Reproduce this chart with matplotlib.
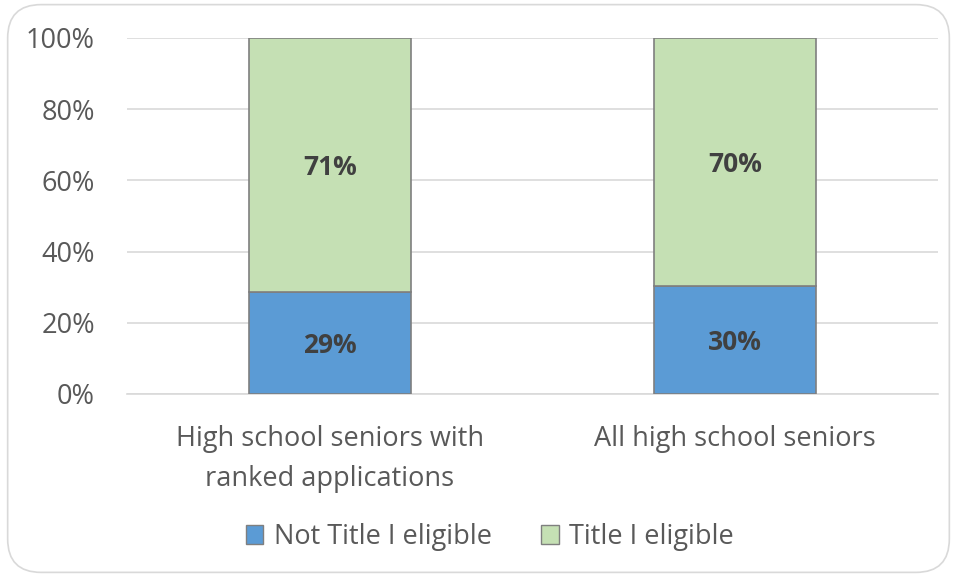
import numpy as np
import matplotlib.pyplot as plt
from matplotlib.patches import FancyBboxPatch, Patch

categories = ["High school seniors with\nranked applications", "All high school seniors"]
not_title = [28.7, 30.4]
title = [71.3, 69.6]
series_names = ["Not Title I eligible", "Title I eligible"]
yticks = [0, 20, 40, 60, 80, 100]

plt.rcParams['font.family'] = ['Open Sans', 'DejaVu Sans']

fig = plt.figure(figsize=(9.57, 5.77), dpi=100)
ax = fig.add_axes([127 / 957, 1 - 394 / 577, (938 - 127) / 957, (394 - 38) / 577])

# rounded chart border
border = FancyBboxPatch((0.008, 0.008), 0.984, 0.984,
                        boxstyle="round,pad=0,rounding_size=0.035",
                        transform=fig.transFigure, facecolor='none',
                        edgecolor='#D9D9D9', linewidth=1.2, mutation_aspect=957 / 577)
fig.patches.append(border)

x = np.arange(len(categories))
ax.bar(x, not_title, width=0.4, color='#5B9BD5', edgecolor='#7F7F7F', linewidth=1.2, zorder=3)
ax.bar(x, title, width=0.4, bottom=not_title, color='#C5E0B4', edgecolor='#7F7F7F', linewidth=1.2, zorder=3)

for i in range(len(categories)):
    ax.text(x[i], not_title[i] / 2, f"{round(not_title[i])}%", ha='center', va='center_baseline',
            fontsize=19, fontweight='bold', color='#404040', zorder=4)
    ax.text(x[i], not_title[i] + title[i] / 2, f"{round(title[i])}%", ha='center', va='center_baseline',
            fontsize=19, fontweight='bold', color='#404040', zorder=4)

ax.set_xlim(-0.5, 1.5)
ax.set_ylim(0, 100)
ax.set_yticks(yticks)
ax.set_yticklabels([f"{t}%" for t in yticks])
ax.set_xticks(x)
ax.set_xticklabels(categories, linespacing=1.6)
ax.tick_params(axis='both', length=0, labelsize=19.5, labelcolor='#595959')
ax.tick_params(axis='y', pad=23)
ax.tick_params(axis='x', pad=22)
ax.grid(axis='y', color='#D9D9D9', linewidth=1.2, zorder=0)
for s in ['top', 'right', 'left']:
    ax.spines[s].set_visible(False)
ax.spines['bottom'].set_color('#D9D9D9')
ax.spines['bottom'].set_linewidth(1.2)

handles = [Patch(facecolor='#5B9BD5', edgecolor='#7F7F7F'), Patch(facecolor='#C5E0B4', edgecolor='#7F7F7F')]
fig.legend(handles, series_names, loc='center', bbox_to_anchor=(490 / 957, 1 - 537 / 577),
           ncol=2, frameon=False, fontsize=19.5, labelcolor='#595959',
           handlelength=0.65, handleheight=0.65, handletextpad=0.4, columnspacing=1.8)

fig.savefig("out.png", dpi=100)
